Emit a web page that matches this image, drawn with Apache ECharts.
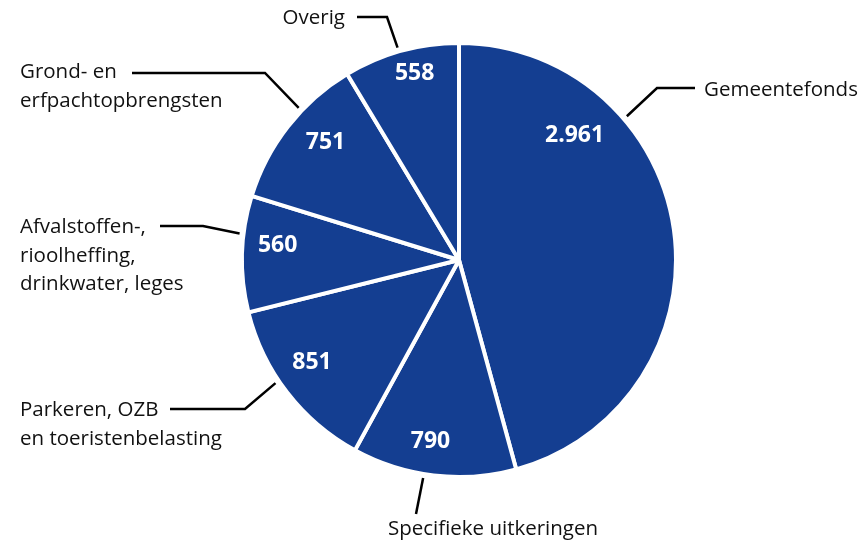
<!DOCTYPE html>
<html>
<head>
<meta charset="utf-8">
<script src="https://cdn.jsdelivr.net/npm/echarts@6/dist/echarts.min.js"></script>
<style>
  html, body { margin: 0; padding: 0; background: #fff; }
  #chart { width: 868px; height: 540px; }
</style>
</head>
<body>
<div id="chart"></div>
<script>
// inkomsten per bron (x mln)
const categories = [
  'Gemeentefonds',
  'Specifieke uitkeringen',
  'Parkeren, OZB\nen toeristenbelasting',
  'Afvalstoffen-,\nrioolheffing,\ndrinkwater, leges',
  'Grond- en\nerfpachtopbrengsten',
  'Overig'
];
const values = [2961, 790, 851, 560, 751, 558];

// label placement (not data)
const CENTER = [459, 260];
const RADIUS = 217;
const innerFrac = [0.26, 0.55, 0.56, 0.60, 0.58, 0.57];
const innerRad = [170, 184, 179, 182, 178, 192];
const lineFrac = [0.30, 0.56, 0.58, 0.67, 0.63, 0.48];
const outerLabels = [
  { x: 704, y: 90, align: 'left', va: 'middle', elbow: [657, 88], end: [695, 88] },
  { x: 493, y: 529, align: 'center', va: 'middle', elbow: null, end: [416, 514] },
  { x: 20, y: 396, align: 'left', va: 'top', elbow: [245, 409], end: [170, 409] },
  { x: 20, y: 213, align: 'left', va: 'top', elbow: [203, 226], end: [160, 226] },
  { x: 20, y: 58, align: 'left', va: 'top', elbow: [265, 73], end: [132, 73] },
  { x: 345, y: 18, align: 'right', va: 'middle', elbow: [387, 17], end: [357, 17] }
];

const total = values.reduce((a, b) => a + b, 0);

// angle (deg, clockwise from top) at a fraction of a slice
function sliceAngle(index, frac) {
  let start = 0;
  for (let i = 0; i < index; i++) start += values[i];
  return ((start + values[index] * frac) / total) * 360;
}

function polar(angle, r) {
  const rad = (angle * Math.PI) / 180;
  return [CENTER[0] + r * Math.sin(rad), CENTER[1] - r * Math.cos(rad)];
}

function formatNl(v) {
  if (v < 1000) return String(v);
  return Math.floor(v / 1000) + '.' + String(v % 1000).padStart(3, '0');
}

const pieData = categories.map((name, i) => ({ name, value: values[i] }));

const chart = echarts.init(document.getElementById('chart'));

chart.setOption({
  backgroundColor: '#fff',
  animation: false,
  series: [
    {
      type: 'pie',
      center: CENTER,
      radius: RADIUS,
      startAngle: 90,
      clockwise: true,
      silent: true,
      data: pieData,
      itemStyle: {
        color: '#143e91',
        borderColor: '#fff',
        borderWidth: 4
      },
      label: {
        show: true,
        position: 'inside',
        color: '#fff',
        fontFamily: 'Open Sans',
        fontWeight: 'bold',
        fontSize: 23,
        formatter: (p) => formatNl(p.value)
      },
      labelLine: { show: false },
      labelLayout: (params) => {
        const i = params.dataIndex;
        const pt = polar(sliceAngle(i, innerFrac[i]), innerRad[i]);
        return { x: pt[0], y: pt[1], align: 'center', verticalAlign: 'middle' };
      }
    },
    {
      type: 'pie',
      center: CENTER,
      radius: RADIUS,
      startAngle: 90,
      clockwise: true,
      silent: true,
      z: 3,
      data: pieData,
      itemStyle: { color: 'rgba(0,0,0,0)', borderWidth: 0 },
      label: {
        show: true,
        position: 'outside',
        color: '#111',
        fontFamily: 'Open Sans',
        fontSize: 20.5,
        lineHeight: 28.5,
        overflow: 'none',
        width: 300,
        formatter: (p) => p.name
      },
      labelLine: {
        show: true,
        lineStyle: { color: '#000', width: 2.5 }
      },
      labelLayout: (params) => {
        const cfg = outerLabels[params.dataIndex];
        const start = polar(sliceAngle(params.dataIndex, lineFrac[params.dataIndex]), 221);
        const pts = cfg.elbow ? [start, cfg.elbow, cfg.end] : [start, cfg.end, cfg.end];
        return {
          x: cfg.x,
          y: cfg.y,
          align: cfg.align,
          verticalAlign: cfg.va,
          labelLinePoints: pts
        };
      }
    }
  ]
});
</script>
</body>
</html>
